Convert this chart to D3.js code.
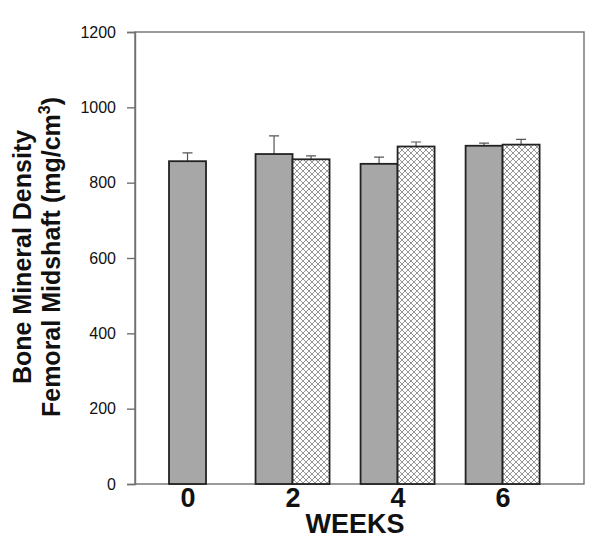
<!DOCTYPE html>
<html lang="en">
<head>
<meta charset="utf-8">
<title>Bone Mineral Density</title>
<script src="https://d3js.org/d3.v7.min.js"></script>
<style>
  body { margin: 0; background: #fff; }
  text { font-family: "Liberation Sans", Arial, sans-serif; fill: #111; }
  .bar { stroke: #222; stroke-width: 1.8px; }
  .err { stroke: #555; stroke-width: 1.2px; fill: none; }
</style>
</head>
<body>
<div id="chart"></div>
<script>
// data
var weeks = [0, 2, 4, 6];
var solidMean = [857, 876, 850, 898];
var solidErr  = [22, 48, 18, 7];
var hatchMean = [null, 862, 896, 901];
var hatchErr  = [null, 9, 12, 14];
var yTicks = [0, 200, 400, 600, 800, 1000, 1200];

var width = 600, height = 552;
// note: "top" is a reserved window prop, so use pTop etc.
var pLeft = 135, pRight = 584, pTop = 32, pBottom = 484;
var barW = 37;

var svg = d3.select("#chart").append("svg")
    .attr("width", width)
    .attr("height", height);

var defs = svg.append("defs");
var pat = defs.append("pattern")
    .attr("id", "hatch")
    .attr("patternUnits", "userSpaceOnUse")
    .attr("width", 6).attr("height", 6);
pat.append("rect").attr("width", 6).attr("height", 6).attr("fill", "#fff");
pat.append("path")
    .attr("d", "M0,0L6,6M6,0L0,6M-1,5L1,7M5,-1L7,1M-1,1L1,-1M5,7L7,5")
    .attr("stroke", "#8a8a8a").attr("stroke-width", 0.9);

var y = d3.scaleLinear().domain([0, 1200]).range([pBottom, pTop]);
var x = d3.scaleLinear().domain([-1.0, 7.55]).range([pLeft, pRight]);

// frame
svg.append("rect")
    .attr("x", pLeft).attr("y", pTop)
    .attr("width", pRight - pLeft).attr("height", pBottom - pTop)
    .attr("fill", "none").attr("stroke", "#707070").attr("stroke-width", 1.4);

// y axis
var yAxis = svg.append("g")
    .attr("transform", "translate(" + pLeft + ",0)")
    .call(d3.axisLeft(y).tickValues(yTicks).tickSize(8).tickPadding(11)
      .tickFormat(d3.format("d")));
yAxis.select(".domain").attr("stroke", "#707070").attr("stroke-width", 1.4);
yAxis.selectAll(".tick line").attr("stroke", "#707070").attr("stroke-width", 1.4);
yAxis.selectAll("text")
    .attr("font-size", 16)
    .attr("font-family", "Liberation Sans, Arial, sans-serif")
    .attr("fill", "#111");

// x labels
var xAxis = svg.append("g")
    .attr("transform", "translate(0," + pBottom + ")")
    .call(d3.axisBottom(x).tickValues(weeks).tickSize(0).tickPadding(4)
      .tickFormat(d3.format("d")));
xAxis.select(".domain").remove();
xAxis.selectAll("text")
    .attr("font-size", 27)
    .attr("font-weight", "bold")
    .attr("font-family", "Liberation Sans, Arial, sans-serif")
    .attr("fill", "#111");

// bars
var rows = weeks.map(function(w, i) {
  return { w: w, s: solidMean[i], se: solidErr[i], h: hatchMean[i], he: hatchErr[i] };
});

var bars = [];
rows.forEach(function(d) {
  if (d.h == null) {
    bars.push({ x0: x(d.w) - barW / 2, v: d.s, e: d.se, fill: "#a7a7a7" });
  } else {
    bars.push({ x0: x(d.w) - barW, v: d.s, e: d.se, fill: "#a7a7a7" });
    bars.push({ x0: x(d.w), v: d.h, e: d.he, fill: "url(#hatch)" });
  }
});

svg.selectAll(".err").data(bars).enter().append("path")
    .attr("class", "err")
    .attr("d", function(d) {
      var cx = d.x0 + barW / 2;
      return "M" + cx + "," + y(d.v) + "V" + y(d.v + d.e) +
             "M" + (cx - 5) + "," + y(d.v + d.e) + "H" + (cx + 5);
    });

svg.selectAll(".bar").data(bars).enter().append("rect")
    .attr("class", "bar")
    .attr("x", function(d) { return d.x0; })
    .attr("y", function(d) { return y(d.v); })
    .attr("width", barW)
    .attr("height", function(d) { return y(0) - y(d.v); })
    .attr("fill", function(d) { return d.fill; });

// axis titles
svg.append("text")
    .attr("x", 355).attr("y", 533)
    .attr("text-anchor", "middle")
    .attr("font-size", 27).attr("font-weight", "bold")
    .text("WEEKS");

var yc = 257;
svg.append("text")
    .attr("transform", "translate(31," + yc + ") rotate(-90)")
    .attr("text-anchor", "middle")
    .attr("font-size", 25).attr("font-weight", "bold")
    .text("Bone Mineral Density");

var t2 = svg.append("text")
    .attr("transform", "translate(60," + yc + ") rotate(-90)")
    .attr("text-anchor", "middle")
    .attr("font-size", 25).attr("font-weight", "bold");
t2.append("tspan").text("Femoral Midshaft (mg/cm");
t2.append("tspan").attr("dy", -10).attr("font-size", 16).text("3");
t2.append("tspan").attr("dy", 10).text(")");
</script>
</body>
</html>
